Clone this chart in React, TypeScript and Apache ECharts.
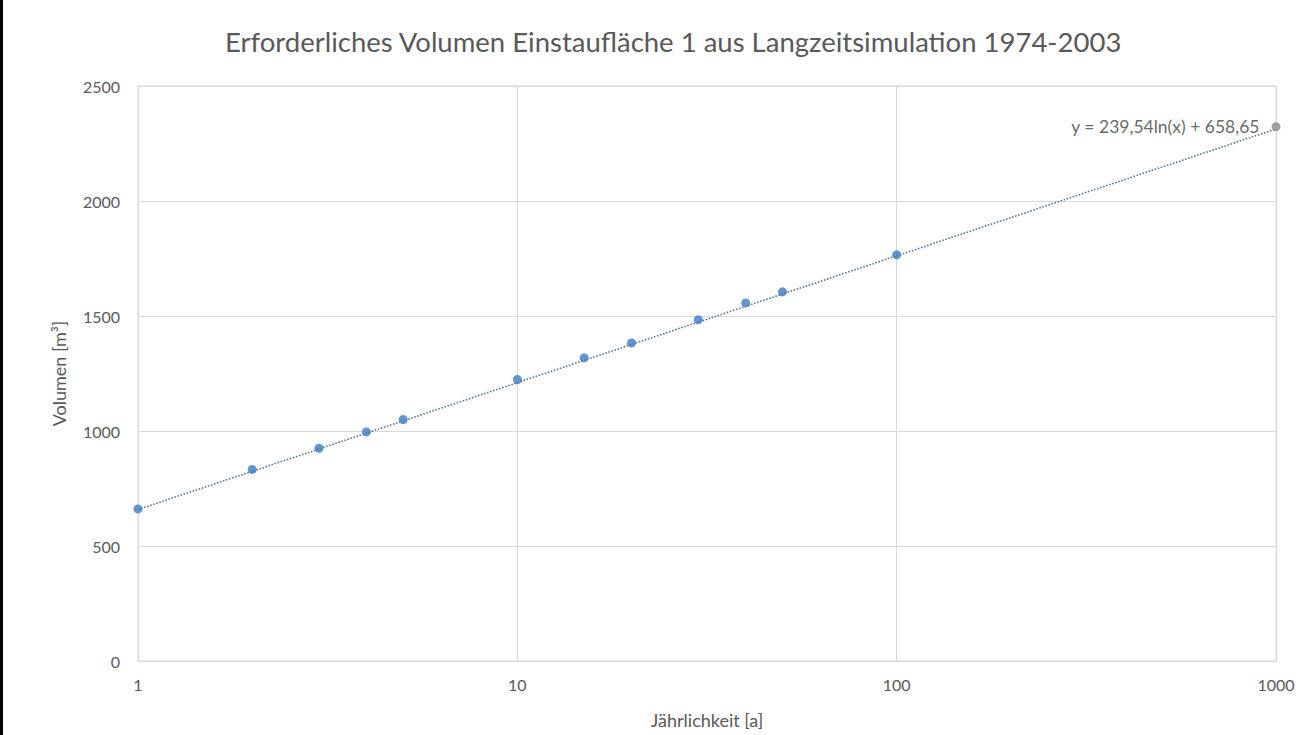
import React, { useEffect, useRef } from "react";
import * as echarts from "echarts";

const returnPeriods = [1, 2, 3, 4, 5, 10, 15, 20, 30, 40, 50, 100];
const volumes = [661, 833, 925, 996, 1050, 1224, 1318, 1383, 1484, 1557, 1605, 1766];
const extrapolatedX = [1000];
const extrapolatedY = [2323];
const trendX = [1, 1000];
const trendY = [658.65, 2313.3];
const titleText = "Erforderliches Volumen Einstaufläche 1 aus Langzeitsimulation 1974-2003";
const equationText = "y = 239,54ln(x) + 658,65";

export default function App() {
  const ref = useRef<HTMLDivElement>(null);
  useEffect(() => {
    document.body.style.margin = "0";
    const chart = echarts.init(ref.current!, null, { renderer: "svg" });
    const font = "Lato, 'Open Sans', sans-serif";
    const option = {
      animation: false,
      backgroundColor: "#ffffff",
      textStyle: { fontFamily: font },
      title: {
        text: titleText,
        left: 220,
        top: 22,
        textStyle: { fontFamily: font, fontSize: 27.5, fontWeight: "normal", color: "#595959" },
      },
      graphic: [
        { type: "rect", left: 0, top: 0, shape: { width: 3, height: 735 }, style: { fill: "#000" } },
      ],
      grid: {
        left: 138,
        right: 29,
        top: 86,
        bottom: 74,
        show: true,
        borderColor: "#d9d9d9",
        borderWidth: 1,
      },
      xAxis: {
        type: "log",
        logBase: 10,
        min: 1,
        max: 1000,
        name: "Jährlichkeit [a]",
        nameLocation: "middle",
        nameGap: 50,
        nameTextStyle: { fontFamily: font, fontSize: 18, color: "#595959" },
        axisLine: { show: true, lineStyle: { color: "#d9d9d9" } },
        axisTick: { show: false },
        minorTick: { show: false },
        axisLabel: {
          fontFamily: font,
          fontSize: 16,
          color: "#595959",
          margin: 15,
          formatter: (v: number) => String(Math.round(v)),
        },
        splitLine: { show: true, lineStyle: { color: "#d9d9d9", width: 1 } },
      },
      yAxis: {
        type: "value",
        min: 0,
        max: 2500,
        interval: 500,
        name: "Volumen [m³]",
        nameLocation: "middle",
        nameGap: 70,
        nameTextStyle: { fontFamily: font, fontSize: 18, color: "#595959" },
        axisLine: { show: true, lineStyle: { color: "#d9d9d9" } },
        axisTick: { show: false },
        axisLabel: {
          fontFamily: font,
          fontSize: 16,
          color: "#595959",
          margin: 18,
          formatter: (v: number) => String(v),
        },
        splitLine: { show: true, lineStyle: { color: "#d9d9d9", width: 1 } },
      },
      series: [
        {
          type: "line",
          data: trendX.map((x, i) => [x, trendY[i]]),
          showSymbol: false,
          symbol: "none",
          lineStyle: { color: "#5a7896", width: 1.6, type: "dotted" },
          z: 2,
        },
        {
          type: "scatter",
          data: returnPeriods.map((x, i) => [x, volumes[i]]),
          symbol: "circle",
          symbolSize: 9,
          itemStyle: { color: "#3d7cc0" },
          z: 3,
        },
        {
          type: "scatter",
          data: extrapolatedX.map((x, i) => [x, extrapolatedY[i]]),
          symbol: "circle",
          symbolSize: 9,
          itemStyle: { color: "#8a8a8a" },
          label: {
            show: true,
            position: "left",
            distance: 12,
            formatter: equationText,
            fontFamily: font,
            fontSize: 17.5,
            color: "#404040",
          },
          z: 3,
        },
      ],
    };
    chart.setOption(option as any);
    return () => chart.dispose();
  }, []);
  return <div ref={ref} style={{ width: 1305, height: 735 }} />;
}
